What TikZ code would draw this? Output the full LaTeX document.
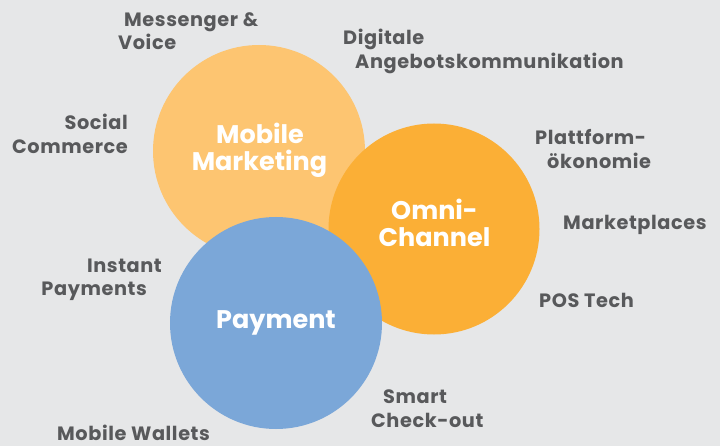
\documentclass[tikz,border=0pt]{standalone}
\usepackage{fontspec}
\setmainfont{Poppins}
\newfontfamily\lblfont{Poppins}[LetterSpace=3]
\definecolor{bgc}{HTML}{E6E7E8}
\definecolor{txt}{HTML}{58595B}
\definecolor{mmc}{HTML}{FDC571}
\definecolor{occ}{HTML}{FBAF36}
\definecolor{pyc}{HTML}{7BA7D8}
\tikzset{
  lbl/.style={inner sep=0pt, text=txt, font=\lblfont\fontsize{19.3}{19.3}\selectfont\bfseries},
  clbl/.style={inner sep=0pt, text=white, font=\fontsize{25.5}{25.5}\selectfont\bfseries}
}
\begin{document}
\begin{tikzpicture}[x=1pt,y=-1pt]
\fill[bgc] (0,0) rectangle (720,446);
\useasboundingbox (0,0) rectangle (720,446);
% circles
\fill[mmc] (259,151) circle (106pt);
\fill[occ] (434,229) circle (105.5pt);
\fill[pyc] (276,323) circle (106pt);
% circle labels
\node[clbl, anchor=base] (mm1) at (260,144) {Mobile};
\node[clbl, anchor=base] (mm2) at (259.5,171) {Marketing};
\node[clbl, anchor=base] (oc1) at (434.5,220) {Omni-};
\node[clbl, anchor=base] (oc2) at (434.5,247) {Channel};
\node[clbl, anchor=base] (py1) at (276,328) {Payment};
% outer labels
\node[lbl, anchor=base west] (ms1) at (124,27) {Messenger \&};
\node[lbl, anchor=base west] (ms2) at (118,50) {Voice};
\node[lbl, anchor=base west] (dg1) at (343,45) {Digitale};
\node[lbl, anchor=base west] (dg2) at (355,69) {Angebotskommunikation};
\node[lbl, anchor=base east] (sc1) at (128,130) {Social};
\node[lbl, anchor=base east] (sc2) at (128,154) {Commerce};
\node[lbl, anchor=base west] (pl1) at (535,145) {Plattform-};
\node[lbl, anchor=base west] (pl2) at (547,169) {ökonomie};
\node[lbl, anchor=base west] (mp1) at (563,230) {Marketplaces};
\node[lbl, anchor=base east] (ip1) at (162,273) {Instant};
\node[lbl, anchor=base east] (ip2) at (147,296) {Payments};
\node[lbl, anchor=base west] (pos) at (539,308) {POS Tech};
\node[lbl, anchor=base west] (sm1) at (383,403) {Smart};
\node[lbl, anchor=base west] (sm2) at (371,427) {Check-out};
\node[lbl, anchor=base west] (mw1) at (57,440) {Mobile Wallets};
\end{tikzpicture}
\end{document}
